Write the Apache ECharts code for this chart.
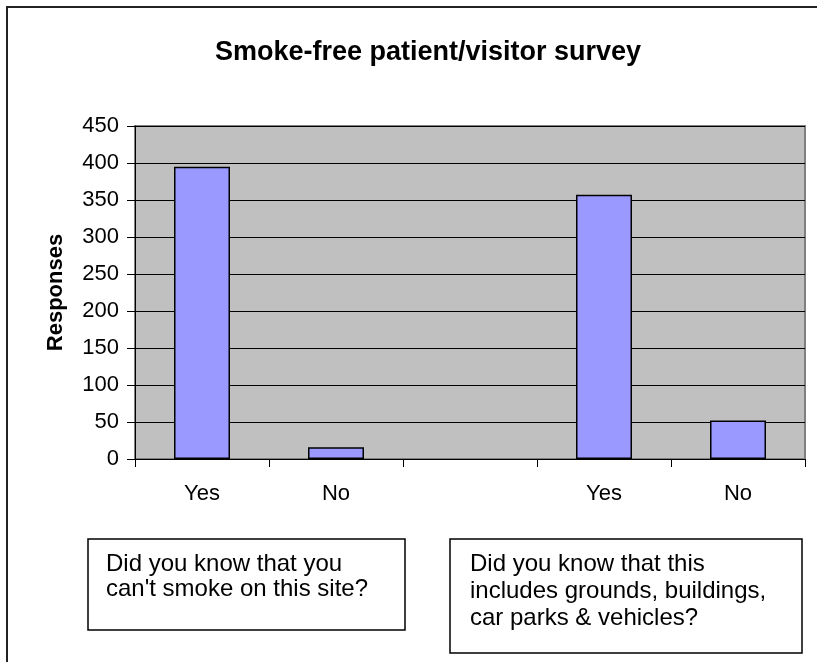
<!DOCTYPE html>
<html>
<head>
<meta charset="utf-8">
<script src="https://cdn.jsdelivr.net/npm/echarts@6/dist/echarts.min.js"></script>
<style>
html,body{margin:0;padding:0;background:#fff;overflow:hidden;}
#chart{width:817px;height:662px;}
</style>
</head>
<body>
<div id="chart"></div>
<script>
const titleText = 'Smoke-free patient/visitor survey';
const yAxisName = 'Responses';
const categories = ['Yes', 'No', '', 'Yes', 'No'];
const responses = [395, 16, null, 357, 52];
const yMin = 0, yMax = 450, yStep = 50;
const noteLeft = ['Did you know that you', "can't smoke on this site?"];
const noteRight = ['Did you know that this', 'includes grounds, buildings,', 'car parks & vehicles?'];

const FONT = '"Liberation Sans", Arial, sans-serif';
const chart = echarts.init(document.getElementById('chart'));
chart.setOption({
  animation: false,
  backgroundColor: '#ffffff',
  title: {
    text: titleText,
    left: 423, top: 34, textAlign: 'center',
    textStyle: {fontFamily: FONT, fontSize: 27, fontWeight: 'bold', color: '#000'}
  },
  grid: {
    left: 135, right: 12, top: 126, bottom: 203,
    show: true, backgroundColor: '#C0C0C0', borderColor: '#808080', borderWidth: 2
  },
  xAxis: {
    type: 'category',
    data: categories,
    axisLine: {lineStyle: {color: '#000', width: 1}},
    axisTick: {show: true, length: 8, lineStyle: {color: '#000'}},
    axisLabel: {fontFamily: FONT, fontSize: 22, color: '#000', margin: 24},
    splitLine: {show: false}
  },
  yAxis: {
    type: 'value',
    min: yMin, max: yMax, interval: yStep,
    name: yAxisName,
    nameLocation: 'middle',
    nameGap: 68,
    nameTextStyle: {fontFamily: FONT, fontSize: 22, fontWeight: 'bold', color: '#000'},
    axisLine: {show: true, lineStyle: {color: '#000', width: 1}},
    axisTick: {show: true, length: 8, lineStyle: {color: '#000'}},
    axisLabel: {fontFamily: FONT, fontSize: 22, color: '#000', margin: 16},
    splitLine: {show: true, lineStyle: {color: '#000', width: 1}}
  },
  series: [{
    type: 'bar',
    data: responses,
    barWidth: 56,
    itemStyle: {color: '#9999FF', borderColor: '#000', borderWidth: 1.5}
  }],
  graphic: [
    {type: 'line', shape: {x1: 6, y1: 7, x2: 817, y2: 7}, style: {stroke: '#222', lineWidth: 2}, silent: true},
    {type: 'line', shape: {x1: 7, y1: 6, x2: 7, y2: 662}, style: {stroke: '#222', lineWidth: 2}, silent: true},
    {type: 'rect', shape: {x: 88, y: 539, width: 317, height: 91}, style: {fill: '#fff', stroke: '#000', lineWidth: 1.5}, z: 10},
    {type: 'text', x: 106, y: 552, style: {text: noteLeft.join('\n'), font: '24px ' + FONT, lineHeight: 25, fill: '#000'}, z: 11},
    {type: 'rect', shape: {x: 450, y: 539, width: 352, height: 114}, style: {fill: '#fff', stroke: '#000', lineWidth: 1.5}, z: 10},
    {type: 'text', x: 470, y: 551, style: {text: noteRight.join('\n'), font: '24px ' + FONT, lineHeight: 27, fill: '#000'}, z: 11}
  ]
});
</script>
</body>
</html>
